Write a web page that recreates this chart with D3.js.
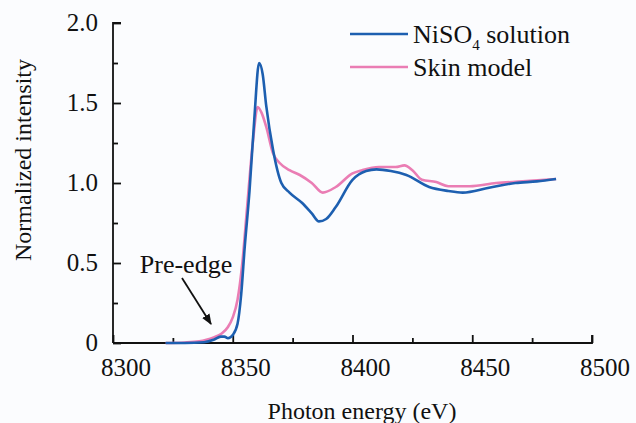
<!DOCTYPE html>
<html lang="en">
<head>
    <meta charset="UTF-8">
    <title>Ni K-edge XANES</title>
    <style>
        body { margin: 0; background: #fbfcfe; }
        text { font-family: "Liberation Serif", "Times New Roman", serif; fill: #111; }
    </style>
</head>
<body>
    <script src="https://d3js.org/d3.v7.min.js"></script>
    <svg id="vis"></svg>
    <script>
        // Data (energy in eV, normalized intensity)
        const nisoEnergy = [8322, 8330, 8338, 8342, 8345, 8346.5, 8348, 8350, 8352, 8353.5, 8355, 8357, 8359, 8361, 8362.5, 8364, 8366.8, 8370.3, 8373.7, 8379, 8383, 8386, 8389, 8393, 8400, 8405.7, 8410, 8416, 8422.5, 8432, 8440, 8446, 8457, 8468, 8477, 8485]
        const nisoValue = [0, 0, 0.005, 0.02, 0.04, 0.04, 0.03, 0.05, 0.12, 0.3, 0.6, 0.95, 1.4, 1.75, 1.68, 1.48, 1.21, 1.0, 0.94, 0.875, 0.81, 0.76, 0.775, 0.85, 1.02, 1.075, 1.085, 1.075, 1.05, 0.975, 0.95, 0.94, 0.97, 1.0, 1.01, 1.025]

        const skinEnergy = [8322, 8330, 8336, 8339, 8342, 8345.4, 8348, 8350, 8352, 8354, 8356, 8358.5, 8360.4, 8362, 8364, 8366.7, 8369.6, 8373.7, 8378, 8383, 8387.6, 8393, 8400, 8404, 8411, 8418, 8421.7, 8425, 8429, 8435, 8440, 8449, 8460, 8471, 8485]
        const skinValue = [0, 0.003, 0.01, 0.02, 0.035, 0.06, 0.1, 0.16, 0.27, 0.5, 0.85, 1.27, 1.475, 1.44, 1.35, 1.19, 1.125, 1.08, 1.05, 1.0, 0.94, 0.975, 1.06, 1.08, 1.1, 1.1, 1.11, 1.08, 1.02, 1.006, 0.98, 0.98, 1.0, 1.01, 1.025]

        const xTicks = [8300, 8350, 8400, 8450, 8500]
        const xMinor = [8325, 8375, 8425, 8475]
        const yTicks = [0, 0.5, 1.0, 1.5, 2.0]
        const yMinor = [0.25, 0.75, 1.25, 1.75]

        const seriesNames = ["NiSO\u2084 solution", "Skin model"]
        const seriesColors = ["#1d5fb0", "#ea7db4"]

        // Layout
        const width = 636, height = 423
        const plotLeft = 113, plotRight = 592, plotTop = 23, plotBottom = 343

        const svg = d3.select('#vis')
            .attr("width", width)
            .attr("height", height)

        const x = d3.scaleLinear().domain([8300, 8500]).range([plotLeft, plotRight])
        const y = d3.scaleLinear().domain([0, 2]).range([plotBottom, plotTop])

        // Axes (ticks pointing inward)
        const xAxis = svg.append("g").attr("transform", `translate(0,${plotBottom})`)
        xAxis.call(d3.axisTop(x).tickValues(xTicks).tickSize(8).tickFormat(""))
        xAxis.append("g").call(d3.axisTop(x).tickValues(xMinor).tickSize(5).tickFormat(""))
        xAxis.selectAll("g g .domain").remove()
        xAxis.selectAll("path, line").attr("stroke", "#111").attr("stroke-width", 1.8)
        xAxis.select(".domain").attr("d", `M${plotLeft},0H${plotRight}V-8`)

        const yAxis = svg.append("g").attr("transform", `translate(${plotLeft},0)`)
        yAxis.call(d3.axisRight(y).tickValues(yTicks).tickSize(8).tickFormat(""))
        yAxis.append("g").call(d3.axisRight(y).tickValues(yMinor).tickSize(5).tickFormat(""))
        yAxis.selectAll("g g .domain").remove()
        yAxis.selectAll("path, line").attr("stroke", "#111").attr("stroke-width", 1.8)
        yAxis.select(".domain").attr("d", `M8,${plotTop}H0V${plotBottom}`)

        // Tick labels (offset slightly right like the original)
        svg.append("g").selectAll("text").data(xTicks).join("text")
            .attr("x", d => x(d) + 13)
            .attr("y", plotBottom + 33)
            .attr("text-anchor", "middle")
            .style("font-size", "25px")
            .text(d => d)

        svg.append("g").selectAll("text").data(yTicks).join("text")
            .attr("x", plotLeft - 15)
            .attr("y", d => y(d) + 8)
            .attr("text-anchor", "end")
            .style("font-size", "25px")
            .text(d => d === 0 ? "0" : d3.format(".1f")(d))

        // Axis titles
        svg.append("text")
            .attr("x", 362).attr("y", 419)
            .attr("text-anchor", "middle")
            .style("font-size", "24px")
            .text("Photon energy (eV)")

        svg.append("text")
            .attr("transform", "translate(31,160) rotate(-90)")
            .attr("text-anchor", "middle")
            .style("font-size", "24px")
            .text("Normalized intensity")

        // Curves
        const line = d3.line().x(d => x(d[0])).y(d => y(d[1])).curve(d3.curveMonotoneX)
        const series = [
            d3.zip(skinEnergy, skinValue),
            d3.zip(nisoEnergy, nisoValue)
        ]
        svg.append("path").datum(series[0])
            .attr("d", line).attr("fill", "none")
            .attr("stroke", seriesColors[1]).attr("stroke-width", 2.6)
        svg.append("path").datum(series[1])
            .attr("d", line).attr("fill", "none")
            .attr("stroke", seriesColors[0]).attr("stroke-width", 2.6)

        // Legend
        const legend = svg.append("g").selectAll("g").data(seriesNames).join("g")
            .attr("transform", (d, i) => `translate(350,${34 + i * 33})`)
        legend.append("line")
            .attr("x1", 0).attr("x2", 58)
            .attr("stroke", (d, i) => seriesColors[i]).attr("stroke-width", 2.6)
        const lt = legend.append("text")
            .attr("x", 63).attr("y", 9)
            .style("font-size", "26px")
        lt.filter((d, i) => i === 0).each(function () {
            const t = d3.select(this)
            t.append("tspan").text("NiSO")
            t.append("tspan").attr("dy", 7).style("font-size", "15px").text("4")
            t.append("tspan").attr("dy", -7).text(" solution")
        })
        lt.filter((d, i) => i === 1).text(d => d)

        // Pre-edge annotation
        svg.append("defs").append("marker")
            .attr("id", "arrow").attr("viewBox", "0 0 10 10")
            .attr("refX", 9).attr("refY", 5)
            .attr("markerWidth", 6).attr("markerHeight", 6)
            .attr("orient", "auto")
            .append("path").attr("d", "M0,1L10,5L0,9z").attr("fill", "#111")
        svg.append("line")
            .attr("x1", 182).attr("y1", 278)
            .attr("x2", 211).attr("y2", 324)
            .attr("stroke", "#111").attr("stroke-width", 1.8)
            .attr("marker-end", "url(#arrow)")
        svg.append("text")
            .attr("x", 186).attr("y", 273)
            .attr("text-anchor", "middle")
            .style("font-size", "26px")
            .text("Pre-edge")
    </script>
</body>
</html>
